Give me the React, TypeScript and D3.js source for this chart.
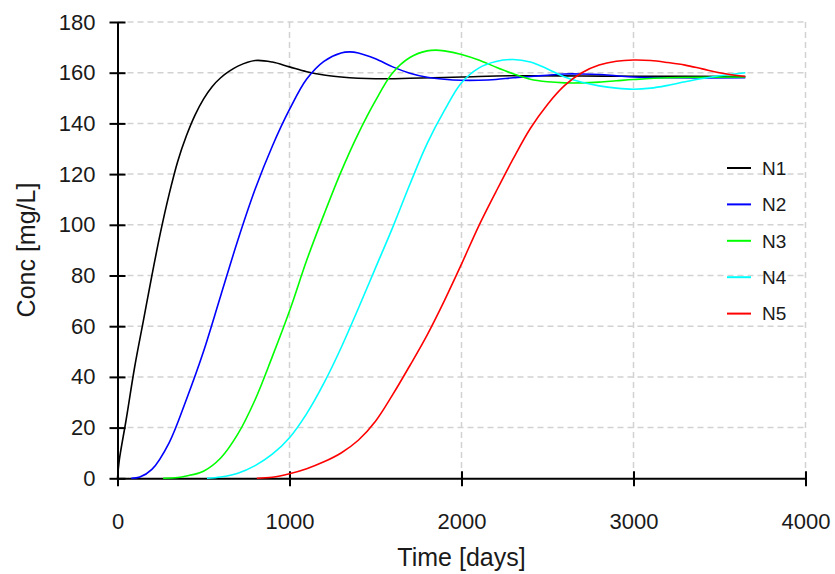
import { useEffect, useRef } from 'react';
import * as d3 from 'd3';

// concentration curves (days, mg/L)
const n1Days = [0, 10, 50, 100, 150, 200, 250, 300, 350, 400, 450, 500, 550, 600, 650, 700, 800, 900, 1000, 1100, 1200, 1300, 1400, 1500, 1700, 2000, 2300, 2700, 3000, 3650];
const n1Conc = [0, 7, 23, 44, 62, 80, 97, 112, 125, 135, 143.2, 149.6, 154.5, 158, 160.6, 162.6, 164.8, 164.2, 162.3, 160.4, 159.1, 158.3, 157.8, 157.6, 157.8, 158.3, 158.8, 158.7, 158.6, 158.5];

const n2Days = [80, 130, 200, 300, 400, 500, 600, 700, 800, 900, 1000, 1100, 1200, 1300, 1350, 1400, 1500, 1600, 1700, 1800, 1900, 2000, 2100, 2200, 2300, 2400, 2500, 2600, 2700, 2800, 2900, 3000, 3200, 3650];
const n2Conc = [0, 0.5, 3.5, 14, 31, 50, 72, 94, 114, 131, 145.5, 157.5, 164.5, 167.8, 168.2, 167.8, 165.5, 162.3, 159.8, 158.2, 157.4, 157, 157, 157.3, 158, 158.5, 159, 159.5, 159.5, 159.3, 158.8, 158.3, 158, 158];

const n3Days = [265, 350, 400, 500, 600, 700, 800, 900, 1000, 1100, 1200, 1300, 1400, 1500, 1600, 1700, 1800, 1850, 1900, 2000, 2100, 2200, 2300, 2400, 2500, 2600, 2700, 2800, 2900, 3000, 3200, 3650];
const n3Conc = [0, 0.3, 0.9, 2.8, 8, 17.5, 31, 48, 66, 86, 104, 121, 136, 149, 160, 166, 168.6, 168.9, 168.6, 167.2, 165, 162.2, 159.6, 157.4, 156.4, 156, 156, 156.3, 156.8, 157.3, 158, 158.3];

const n4Days = [520, 600, 700, 800, 900, 1000, 1100, 1200, 1300, 1400, 1500, 1600, 1700, 1800, 1900, 2000, 2100, 2200, 2300, 2400, 2500, 2600, 2700, 2800, 2900, 3000, 3100, 3200, 3300, 3400, 3500, 3650];
const n4Conc = [0, 0.5, 2, 5, 9.5, 16, 25.5, 37.5, 51.5, 67, 83, 99, 116, 132, 145, 156, 161.8, 164.4, 165.2, 164.2, 161.5, 158.3, 156.2, 154.8, 153.9, 153.5, 153.9, 155, 156.4, 157.7, 158.8, 160];

const n5Days = [810, 900, 1000, 1100, 1200, 1300, 1400, 1500, 1600, 1700, 1800, 1900, 2000, 2100, 2200, 2300, 2400, 2500, 2600, 2700, 2800, 2900, 3000, 3100, 3200, 3300, 3400, 3500, 3650];
const n5Conc = [0, 0.4, 1.8, 3.8, 6.5, 10, 15, 22.5, 33, 44.5, 56.5, 70, 84.5, 99.5, 113, 126, 138, 147.5, 155, 160, 163, 164.5, 165, 164.8, 164, 163, 161.5, 160, 158.5];

const seriesNames = ['N1', 'N2', 'N3', 'N4', 'N5'];
const seriesColors = ['#000000', '#0000ff', '#00ff00', '#00ffff', '#ff0000'];
const seriesDays = [n1Days, n2Days, n3Days, n4Days, n5Days];
const seriesConc = [n1Conc, n2Conc, n3Conc, n4Conc, n5Conc];

const xTicks = [0, 1000, 2000, 3000, 4000];
const yTicks = [0, 20, 40, 60, 80, 100, 120, 140, 160, 180];

const App = () => {
    const svgRef = useRef<SVGSVGElement>(null);

    useEffect(() => {
        const svg = d3.select(svgRef.current);
        svg.selectAll('*').remove();

        const width = 835;
        const height = 574;
        const left = 117.5;
        const right = 805.5;
        const top = 22;
        const bottom = 478.3;
        const font = '"Liberation Sans", Arial, sans-serif';

        const x = d3.scaleLinear().domain([0, 4000]).range([left, right]);
        const y = d3.scaleLinear().domain([0, 180]).range([bottom, top]);

        svg.attr('width', width).attr('height', height);
        svg.append('rect').attr('width', width).attr('height', height).attr('fill', '#fff');

        // dashed grid
        const grid = svg.append('g').attr('stroke', '#d2d2d2').attr('stroke-width', 1.5).attr('stroke-dasharray', '6,4');
        grid.selectAll('.gy')
            .data(yTicks.filter((d) => d > 0))
            .enter()
            .append('line')
            .attr('x1', left)
            .attr('x2', right)
            .attr('y1', (d) => y(d))
            .attr('y2', (d) => y(d));
        grid.selectAll('.gx')
            .data(xTicks.filter((d) => d > 0))
            .enter()
            .append('line')
            .attr('x1', (d) => x(d))
            .attr('x2', (d) => x(d))
            .attr('y1', top)
            .attr('y2', bottom);

        // axes
        const xAxis = d3.axisBottom(x).tickValues(xTicks).tickFormat(d3.format('d')).tickSize(7).tickSizeOuter(0).tickPadding(28);
        const yAxis = d3.axisLeft(y).tickValues(yTicks).tickFormat(d3.format('d')).tickSize(8).tickSizeOuter(0).tickPadding(14);

        const gx = svg.append('g').attr('transform', `translate(0,${bottom})`).call(xAxis);
        const gy = svg.append('g').attr('transform', `translate(${left},0)`).call(yAxis);

        [gx, gy].forEach((g) => {
            g.select('.domain').attr('stroke', '#000').attr('stroke-width', 2);
            g.selectAll('.tick line').attr('stroke', '#000').attr('stroke-width', 2);
            g.selectAll('.tick text').attr('font-family', font).attr('font-size', '22px').attr('fill', '#1a1a1a');
        });
        // ticks cross the axis line
        gx.selectAll('.tick line').attr('y1', -7).attr('y2', 8);
        gy.selectAll('.tick line').attr('x1', 8).attr('x2', -8);
        gx.selectAll('.tick text').attr('dy', '0.71em');

        // curves
        const line = d3
            .line<[number, number]>()
            .x((d) => x(d[0]))
            .y((d) => y(d[1]))
            .curve(d3.curveCatmullRom.alpha(0.5));

        seriesNames.forEach((name, i) => {
            const pts = seriesDays[i].map((t, j) => [t, seriesConc[i][j]] as [number, number]);
            svg.append('path')
                .datum(pts)
                .attr('fill', 'none')
                .attr('stroke', seriesColors[i])
                .attr('stroke-width', 1.6)
                .attr('d', line);
        });

        // legend
        const legend = svg.append('g').attr('transform', 'translate(727,168)');
        seriesNames.forEach((name, i) => {
            const row = legend.append('g').attr('transform', `translate(0,${i * 36.4})`);
            row.append('line')
                .attr('x1', 0)
                .attr('x2', 24)
                .attr('y1', 0)
                .attr('y2', 0)
                .attr('stroke', seriesColors[i])
                .attr('stroke-width', 2);
            row.append('text')
                .attr('x', 35)
                .attr('y', 0)
                .attr('dy', '0.36em')
                .attr('font-family', font)
                .attr('font-size', '19px')
                .attr('fill', '#1a1a1a')
                .text(name);
        });

        // axis titles
        svg.append('text')
            .attr('x', (left + right) / 2)
            .attr('y', 566)
            .attr('text-anchor', 'middle')
            .attr('font-family', font)
            .attr('font-size', '25px')
            .attr('fill', '#1a1a1a')
            .text('Time [days]');

        svg.append('text')
            .attr('transform', 'rotate(-90)')
            .attr('x', -250)
            .attr('y', 35)
            .attr('text-anchor', 'middle')
            .attr('font-family', font)
            .attr('font-size', '25px')
            .attr('fill', '#1a1a1a')
            .text('Conc [mg/L]');
    }, []);

    return (
        <div>
            <svg ref={svgRef} style={{ position: 'absolute', left: 0, top: 0, display: 'block' }}></svg>
        </div>
    );
};

export default App;
